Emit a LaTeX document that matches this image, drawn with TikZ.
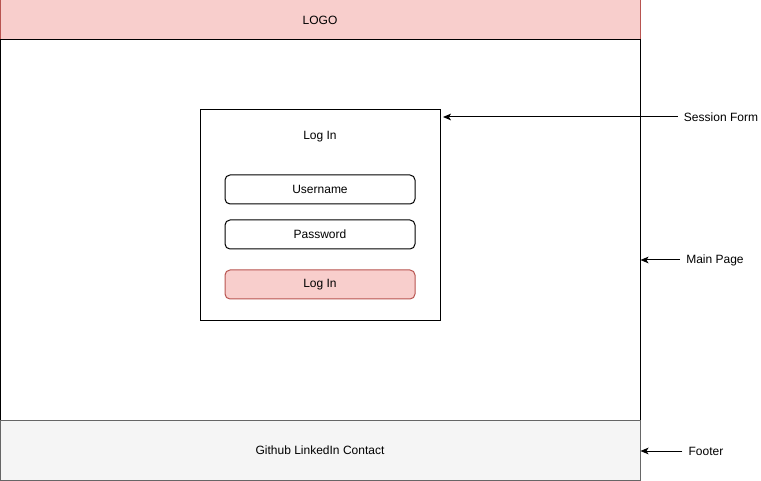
\documentclass[tikz,border=0pt]{standalone}
\usepackage{fontspec}
\setmainfont{Liberation Sans}
\usetikzlibrary{arrows.meta}
\definecolor{redFill}{HTML}{F8CECC}
\definecolor{redLine}{HTML}{B85450}
\definecolor{greyFill}{HTML}{F5F5F5}
\definecolor{greyLine}{HTML}{666666}
\begin{document}
\begin{tikzpicture}[x=0.75pt,y=-0.75pt,font=\fontsize{9}{11}\selectfont]
	\tikzset{box/.style = {draw,line width=0.75pt,inner sep=0pt}}
	\tikzset{field/.style = {box,rounded corners=3.75pt,minimum width=142.5pt,minimum height=21.75pt}}
	\tikzstyle{edge} = [-{Stealth[length=6pt,width=5pt,inset=1.5pt]},line width=0.75pt]
	\tikzstyle{caption} = [inner sep=4.5pt]
	\useasboundingbox (0,0) rectangle (761,481);
	%page parts
	\node[box,fill=redFill,draw=redLine,minimum width=480pt,minimum height=30pt] (header) at (320,20) {LOGO};
	\node[box,minimum width=480pt,minimum height=285pt] (main) at (320,230) {};
	\node[box,fill=greyFill,draw=greyLine,minimum width=480pt,minimum height=45pt] (footer) at (320,450) {Github LinkedIn Contact};
	%session form
	\node[box,minimum width=180pt,minimum height=157.5pt] (form) at (320,215) {};
	\node (title) at (320,137) {Log In};
	\node[field] (user) at (320,189.5) {Username};
	\node[field] (pass) at (320,234.5) {Password};
	\node[field,fill=redFill,draw=redLine] (login) at (320,284.5) {Log In};
	%captions
	\node[caption] (sessionLbl) at (721,117) {Session Form};
	\node[caption] (mainLbl) at (715,260) {Main Page};
	\node[caption] (footerLbl) at (706,451) {Footer};
	\coordinate (formTip) at (443,117);
	\draw[edge] (sessionLbl) to (formTip);
	\draw[edge] (mainLbl) to (mainLbl -| main.east);
	\draw[edge] (footerLbl) to (footerLbl -| footer.east);
\end{tikzpicture}
\end{document}
